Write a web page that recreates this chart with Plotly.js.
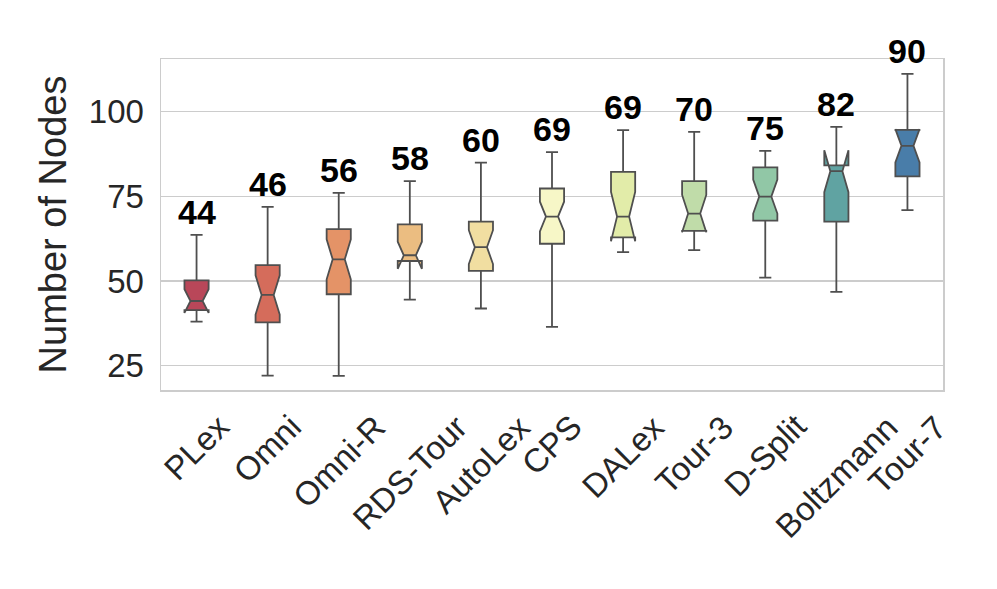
<!DOCTYPE html>
<html>
<head>
<meta charset="utf-8">
<script src="https://cdn.plot.ly/plotly-3.0.1.min.js"></script>
<style>
  html, body { margin: 0; padding: 0; background: #ffffff; }
  #chart { width: 997px; height: 589px; }
</style>
</head>
<body>
<div id="chart"></div>
<script>
// ---- data ----
const categories = ['PLex', 'Omni', 'Omni-R', 'RDS-Tour', 'AutoLex', 'CPS', 'DALex', 'Tour-3', 'D-Split', 'Boltzmann', 'Tour-7'];
const lowerFence = [38.0, 22.1, 22.0, 44.5, 41.9, 36.5, 58.5, 59.1, 51.0, 46.8, 70.9];
const q1Values   = [41.4, 37.8, 46.1, 55.9, 53.0, 61.0, 62.9, 64.8, 67.8, 67.5, 80.9];
const medians    = [44.1, 45.9, 56.4, 57.6, 60.0, 69.0, 69.0, 69.9, 74.9, 82.4, 89.9];
const q3Values   = [50.2, 54.7, 65.3, 66.7, 67.5, 77.3, 82.2, 79.5, 83.5, 84.1, 94.6];
const upperFence = [63.6, 71.9, 76.0, 79.5, 84.9, 88.0, 94.5, 94.0, 88.4, 95.5, 111.1];
const notchSpans = [3.5, 5.8, 5.9, 4.0, 5.0, 4.4, 7.3, 5.5, 5.0, 6.2, 4.9];
const medianLabels = ['44', '46', '56', '58', '60', '69', '69', '70', '75', '82', '90'];
const yTickValues = [25, 50, 75, 100];

// ---- styling ----
const boxColors = ['#b94759', '#d56c5b', '#e49367', '#ebbd81', '#f1dea1', '#f7f7c7',
                   '#e2eca9', '#c0dca9', '#91c7a6', '#60a3a2', '#497da9'];
const FONT = 'Liberation Sans, Arial, Helvetica, sans-serif';
const TEXT = '#262626';
const EDGE = '#4f4f4f';

const traces = categories.map((c, i) => ({
  type: 'box',
  x: [c],
  q1: [q1Values[i]],
  median: [medians[i]],
  q3: [q3Values[i]],
  lowerfence: [lowerFence[i]],
  upperfence: [upperFence[i]],
  notchspan: [notchSpans[i]],
  notched: true,
  notchwidth: 0.25,
  width: 0.34,
  whiskerwidth: 0.5,
  boxpoints: false,
  fillcolor: boxColors[i],
  line: { color: EDGE, width: 1.8 },
  showlegend: false,
  hoverinfo: 'skip'
}));

const annotations = [];
categories.forEach((c, i) => {
  annotations.push({
    x: c, xref: 'x', y: upperFence[i], yref: 'y',
    text: medianLabels[i], showarrow: false,
    xanchor: 'center', yanchor: 'bottom', yshift: 2,
    font: { family: FONT, size: 34, color: '#000000', weight: 'bold' }
  });
  annotations.push({
    x: c, xref: 'x', y: 0, yref: 'paper',
    text: c, showarrow: false, textangle: -45,
    xanchor: 'center', yanchor: 'top', yshift: -15,
    font: { family: FONT, size: 33, color: TEXT }
  });
});

const layout = {
  width: 997, height: 589,
  margin: { l: 161, r: 54, t: 59, b: 199, pad: 0 },
  paper_bgcolor: '#ffffff', plot_bgcolor: '#ffffff',
  boxmode: 'overlay',
  font: { family: FONT, color: TEXT },
  xaxis: {
    type: 'category',
    categoryorder: 'array', categoryarray: categories,
    range: [-0.5, categories.length - 0.5],
    showgrid: false, zeroline: false,
    showticklabels: false, ticks: '',
    showline: true, mirror: true, linecolor: '#cccccc', linewidth: 1.5
  },
  yaxis: {
    range: [17.85, 115.5],
    tickvals: yTickValues,
    ticktext: yTickValues.map(String),
    ticks: '', ticklabelstandoff: 9,
    tickfont: { family: FONT, size: 33, color: TEXT },
    showgrid: true, gridcolor: '#cccccc', gridwidth: 1.3,
    zeroline: false,
    showline: true, mirror: true, linecolor: '#cccccc', linewidth: 1.5,
    title: { text: 'Number of Nodes', font: { family: FONT, size: 38, color: TEXT }, standoff: 10 }
  },
  annotations: annotations
};

Plotly.newPlot('chart', traces, layout, { displayModeBar: false, staticPlot: true });
</script>
</body>
</html>
